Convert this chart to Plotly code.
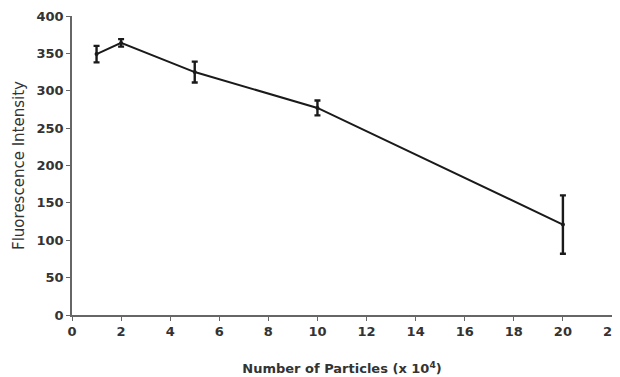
import plotly.graph_objects as go

particles = [1, 2, 5, 10, 20]
intensity = [349, 364, 325, 277, 121]
errors = [11, 5, 14, 10, 39]

x_ticks = list(range(0, 23, 2))
y_ticks = list(range(0, 401, 50))

ink = "#1a1a1a"
fig = go.Figure()
fig.add_trace(go.Scatter(
    x=particles, y=intensity, mode="lines+markers",
    line=dict(color=ink, width=2),
    marker=dict(size=4, color=ink),
    error_y=dict(type="data", array=errors, visible=True, color=ink, thickness=2.4, width=3),
    showlegend=False, cliponaxis=False,
))

fam = "DejaVu Sans, Verdana, sans-serif"
fig.update_layout(
    width=620, height=377,
    margin=dict(l=64, r=16, t=8, b=70),
    paper_bgcolor="white", plot_bgcolor="white",
    font=dict(family=fam, size=13, color="#333333"),
    xaxis=dict(
        range=[0, 22], tickvals=x_ticks, ticktext=[f"<b>{v}</b>" for v in x_ticks],
        automargin=False,
        showgrid=False, zeroline=False, showline=True, linecolor="#666666", linewidth=1.5,
        ticks="outside", ticklen=4, tickcolor="#666666",
        tickfont=dict(family=fam, size=13, color="#333333"),
        title=dict(text="<b>Number of Particles (x 10<sup>4</sup>)</b>", standoff=26,
                   font=dict(family=fam, size=13, color="#333333")),
    ),
    yaxis=dict(
        range=[0, 400], tickvals=y_ticks, ticktext=[f"<b>{v}</b>" for v in y_ticks],
        automargin=False,
        showgrid=False, zeroline=False, showline=True, linecolor="#666666", linewidth=1.5,
        ticks="outside", ticklen=4, tickcolor="#666666",
        tickfont=dict(family=fam, size=13, color="#333333"),
        title=dict(text="Fluorescence Intensity", standoff=8,
                   font=dict(family=fam, size=15, color="#333333")),
    ),
)

fig.write_html("out.html")
